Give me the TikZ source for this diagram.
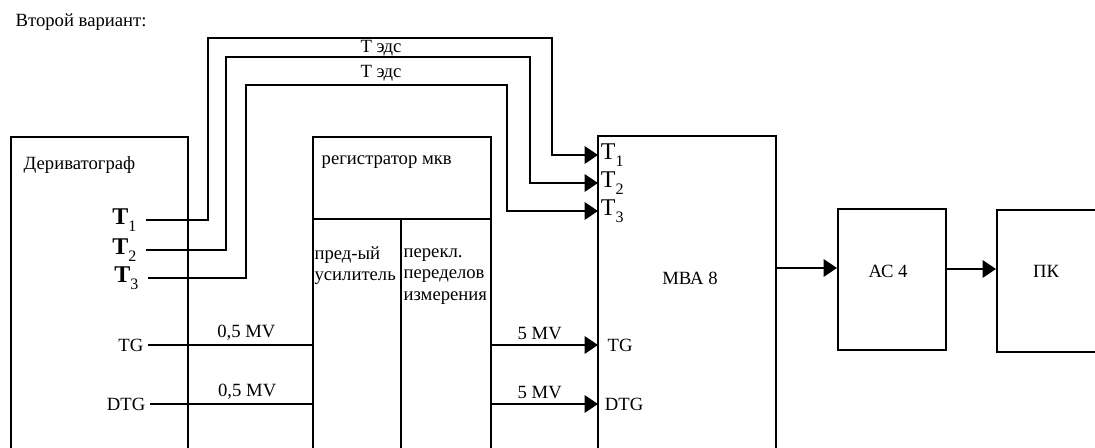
\documentclass[tikz,border=0pt]{standalone}
\usepackage{fontspec}
\setmainfont{Liberation Serif}
\usetikzlibrary{arrows.meta,positioning,fit}

\newcommand{\tind}[2]{#1\raisebox{-0.6ex}{\fontsize{12}{12}\selectfont #2}}

\begin{document}
\begin{tikzpicture}[
  x=0.75pt,y=-0.75pt,
  font=\fontsize{14}{16}\selectfont,
  blk/.style={draw=black,line width=1.5pt,inner sep=0pt},
  ln/.style={draw=black,line width=1.5pt},
  ar/.style={ln,-{Triangle[length=10pt,width=13pt]}},
  tlbl/.style={font=\fontsize{18}{18}\selectfont},
  mv/.style={above,inner sep=3pt}
]
\useasboundingbox (0,0) rectangle (1095,448);
\clip (0,0) rectangle (1095,448);

% ---- title
\node[anchor=west] (ttl) at (11,22) {Второй вариант:};

% ---- boxes
\node[blk,fit={(11,137) (188,470)}] (der) {};
\node[blk,fit={(313,137) (491,470)}] (reg) {};
\node[blk,fit={(598,136) (776,470)}] (mba) {};
\node[blk,fit={(838,209) (946,350)}] (ac) {};
\node[blk,fit={(997,210) (1110,352)}] (pk) {};
\draw[ln] (reg.west |- 0,219) -- (reg.east |- 0,219);
\draw[ln] (401,219) -- (401,470);

% ---- box texts
\node[anchor=west] (dername) at (19,165) {Дериватограф};
\node[anchor=west] (regname) at (317,162) {регистратор мкв};
\node[anchor=north west,align=left,inner sep=1pt] (amp) at (313,245) {пред-ый\\усилитель};
\node[anchor=north west,align=left,inner sep=1pt] (sw) at (402,247) {перекл.\\переделов\\измерения};
\node (mbaname) at (690,278) {МВА 8};
\node (acname) at (888,271) {АС 4};
\node (pkname) at (1046,271) {ПК};

% ---- outputs of the derivatograph
\node[tlbl,anchor=east,inner sep=7pt] (dt1) at (146,220) {\tind{\textbf{T}}{1}};
\node[tlbl,anchor=east,inner sep=7pt] (dt2) at (146,250) {\tind{\textbf{T}}{2}};
\node[tlbl,anchor=east,inner sep=7pt] (dt3) at (148,278) {\tind{\textbf{T}}{3}};
\node[anchor=east] (dtg) at (148,345) {TG};
\node[anchor=east] (ddtg) at (150,404) {DTG};

% ---- inputs of the MBA
\node[tlbl,anchor=west,inner sep=2pt] (mt1) at (598,155) {\tind{T}{1}};
\node[tlbl,anchor=west,inner sep=2pt] (mt2) at (598,183) {\tind{T}{2}};
\node[tlbl,anchor=west,inner sep=2pt] (mt3) at (598,211) {\tind{T}{3}};
\node[anchor=west,inner sep=7pt] (mtg) at (598,345) {TG};
\node[anchor=west,inner sep=5pt] (mdtg) at (598,404) {DTG};

% ---- thermocouple lines
\draw[ar] (dt1.east) -| (208,38) -| (552,155) -- (mt1.west);
\draw[ar] (dt2.east) -| (226,57) -| (530,183) -- (mt2.west);
\draw[ar] (dt3.east) -| (246,85) -| (507,211) -- (mt3.west);
\node (edc1) at (381,48) {Т эдс};
\node (edc2) at (381,73) {Т эдс};

% ---- TG / DTG through the recorder
\draw[ln] (dtg.east) -- node[mv,pos=0.6] (mv1) {0,5 MV} (reg.west |- dtg.east);
\draw[ln] (ddtg.east) -- node[mv,pos=0.6] (mv2) {0,5 MV} (reg.west |- ddtg.east);
\draw[ar] (reg.east |- mtg.west) -- node[mv,pos=0.45] (mv3) {5 MV} (mtg.west);
\draw[ar] (reg.east |- mdtg.west) -- node[mv,pos=0.45] (mv4) {5 MV} (mdtg.west);

% ---- MBA -> AC 4 -> PC
\draw[ar] (mba.east |- 0,268) -- (ac.west |- 0,268);
\draw[ar] (ac.east |- 0,269) -- (pk.west |- 0,269);
\end{tikzpicture}
\end{document}
